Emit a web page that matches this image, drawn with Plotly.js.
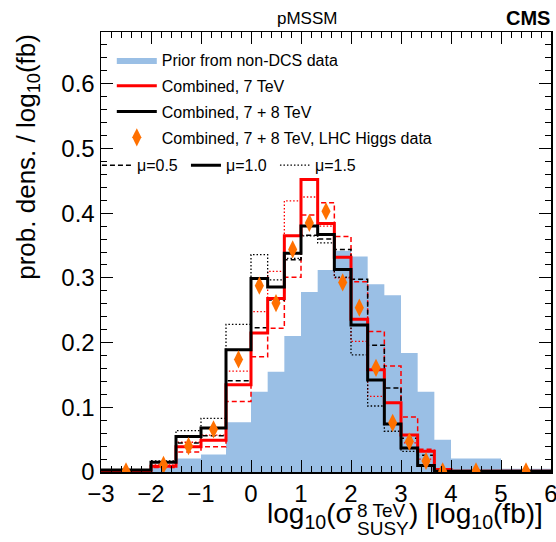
<!DOCTYPE html>
<html><head><meta charset="utf-8">
<script src="https://cdn.plot.ly/plotly-3.0.1.min.js"></script>
<style>body{margin:0;background:#fff}#chart{width:556px;height:542px}</style>
</head><body><div id="chart"></div>
<script>
// bin edges of log10(sigma) histogram
const binEdges = [-3, -2, -1.5, -1, -0.5, 0, 0.3333, 0.6667, 1, 1.3333, 1.6667, 2, 2.3333, 2.6667, 3, 3.3333, 3.6667, 4, 5, 6];
// Prior from non-DCS data
const prior      = [0.001, 0.007, 0.021, 0.027, 0.077, 0.124, 0.155, 0.210, 0.278, 0.312, 0.342, 0.333, 0.290, 0.273, 0.184, 0.124, 0.050, 0.021, 0.005];
// Combined, 7 TeV (mu = 0.5, 1.0, 1.5)
const comb7Mu05  = [0.002, 0.007, 0.031, 0.039, 0.109, 0.178, 0.222, 0.301, 0.397, 0.416, 0.364, 0.294, 0.217, 0.164, 0.085, 0.035, 0.005, 0.001, 0.001];
const comb7Mu10  = [0.002, 0.009, 0.039, 0.049, 0.135, 0.215, 0.268, 0.365, 0.452, 0.384, 0.332, 0.236, 0.158, 0.107, 0.057, 0.032, 0.004, 0.001, 0.001];
const comb7Mu15  = [0.002, 0.011, 0.046, 0.057, 0.156, 0.248, 0.310, 0.419, 0.425, 0.380, 0.300, 0.202, 0.117, 0.075, 0.045, 0.020, 0.002, 0.001, 0.001];
// Combined, 7 + 8 TeV (mu = 0.5, 1.0, 1.5)
const comb78Mu05 = [0.003, 0.015, 0.045, 0.056, 0.141, 0.223, 0.266, 0.328, 0.366, 0.360, 0.344, 0.298, 0.196, 0.130, 0.052, 0.026, 0.003, 0.001, 0.001];
const comb78Mu10 = [0.003, 0.015, 0.055, 0.068, 0.189, 0.299, 0.286, 0.338, 0.380, 0.367, 0.313, 0.227, 0.142, 0.074, 0.037, 0.010, 0.001, 0.001, 0.001];
const comb78Mu15 = [0.003, 0.017, 0.064, 0.083, 0.228, 0.336, 0.297, 0.330, 0.365, 0.354, 0.301, 0.181, 0.102, 0.063, 0.032, 0.009, 0.001, 0.001, 0.001];
// Combined, 7 + 8 TeV, LHC Higgs data
const higgs      = [0.001, 0.011, 0.040, 0.066, 0.174, 0.288, 0.261, 0.344, 0.385, 0.403, 0.293, 0.254, 0.161, 0.076, 0.047, 0.017, 0.001, 0.001, 0.001];

const xTickVals = [-3, -2, -1, 0, 1, 2, 3, 4, 5, 6];
const yTickVals = [0, 0.1, 0.2, 0.3, 0.4, 0.5, 0.6];

const FONT = 'Liberation Sans, Arial, Helvetica, sans-serif';
const RED = '#ff0000';
const BLUE = '#9abfe5';
const ORANGE = '#ff7000';
const DASH = '5px,3px';
const DOT = '1.5px,2px';

function stepY(v) { return v.concat([v[v.length - 1]]); }
const centers = binEdges.slice(0, -1).map((e, i) => (e + binEdges[i + 1]) / 2);

function hist(vals, color, width, dash, extra) {
  return Object.assign({
    type: 'scatter', mode: 'lines', x: binEdges, y: stepY(vals),
    line: {shape: 'hv', color: color, width: width, dash: dash},
    showlegend: false, hoverinfo: 'skip'
  }, extra || {});
}

const traces = [
  {type: 'scatter', mode: 'lines', x: binEdges, y: stepY(prior), fill: 'tozeroy',
   fillcolor: BLUE, line: {shape: 'hv', width: 0, color: BLUE},
   name: 'Prior from non-DCS data', legend: 'legend', legendrank: 1, legendgroup: 'g1'},
  hist(comb7Mu05, RED, 1.5, DASH),
  hist(comb7Mu15, RED, 1.3, DOT),
  hist(comb78Mu05, 'black', 1.5, DASH, {showlegend: true, name: 'μ=0.5', legend: 'legend2', legendrank: 1}),
  hist(comb78Mu15, 'black', 1.3, DOT, {showlegend: true, name: 'μ=1.5', legend: 'legend2', legendrank: 3}),
  hist(comb7Mu10, RED, 3, 'solid', {showlegend: true, name: 'Combined, 7 TeV', legend: 'legend', legendrank: 2, legendgroup: 'g2'}),
  hist(comb78Mu10, 'black', 3, 'solid', {showlegend: true, name: 'Combined, 7 + 8 TeV', legend: 'legend', legendrank: 3, legendgroup: 'g3'}),
  {type: 'scatter', mode: 'markers', x: centers, y: higgs,
   marker: {symbol: 'diamond-tall', size: 13, color: ORANGE, line: {width: 0}},
   name: 'Combined, 7 + 8 TeV, LHC Higgs data', legend: 'legend', legendrank: 4, legendgroup: 'g4'},
  {type: 'scatter', mode: 'lines', x: [null], y: [null], line: {color: 'black', width: 3},
   name: 'μ=1.0', legend: 'legend2', legendrank: 2}
];

const axisCommon = {
  showline: true, linecolor: 'black', linewidth: 1.5, mirror: 'allticks',
  ticks: 'inside', ticklen: 12, tickwidth: 1, tickcolor: 'black',
  showgrid: false, zeroline: false, ticklabeloverflow: 'allow',
  tickfont: {family: FONT, size: 24, color: 'black'}
};

const layout = {
  width: 556, height: 542,
  margin: {l: 101, r: 5, t: 32, b: 70},
  paper_bgcolor: 'white', plot_bgcolor: 'white',
  font: {family: FONT, color: 'black'},
  xaxis: Object.assign({}, axisCommon, {
    range: [-3, 6], tickmode: 'array', tickvals: xTickVals,
    minor: {dtick: 0.2, tick0: 0, ticks: 'inside', ticklen: 6, tickwidth: 1, tickcolor: 'black'}
  }),
  yaxis: Object.assign({}, axisCommon, {
    range: [0, 0.68], tickmode: 'array', tickvals: yTickVals,
    minor: {dtick: 0.02, tick0: 0, ticks: 'inside', ticklen: 6, tickwidth: 1, tickcolor: 'black'}
  }),
  legend: {x: 0.024, y: 0.975, xanchor: 'left', yanchor: 'top', bgcolor: 'rgba(0,0,0,0)',
           font: {family: FONT, size: 16, color: 'black'}, traceorder: 'grouped', tracegroupgap: 2, itemwidth: 40},
  legend2: {x: -0.009, y: 0.697, xanchor: 'left', yanchor: 'middle', orientation: 'h',
            bgcolor: 'rgba(0,0,0,0)', font: {family: FONT, size: 16, color: 'black'},
            itemwidth: 30, entrywidth: 44},
  annotations: [
    {text: 'pMSSM', xref: 'paper', yref: 'paper', x: 0.458, y: 1.0, yanchor: 'bottom', yshift: 2,
     showarrow: false, font: {family: FONT, size: 17}},
    {text: '<b>CMS</b>', xref: 'paper', yref: 'paper', x: 1.003, y: 1.0, xanchor: 'right', yanchor: 'bottom', yshift: 1,
     showarrow: false, font: {family: FONT, size: 20}},
    {text: 'prob. dens. / log<sub>10</sub>(fb)', xref: 'paper', yref: 'paper', x: -0.165, y: 1.0,
     xanchor: 'center', yanchor: 'top', textangle: -90, showarrow: false, font: {family: FONT, size: 26}},
    {text: 'log<sub>10</sub>(σ', xref: 'paper', yref: 'paper', x: 0.5644, y: -0.099,
     xanchor: 'right', yanchor: 'middle', showarrow: false, font: {family: FONT, size: 28}},
    {text: '8 TeV', xref: 'paper', yref: 'paper', x: 0.5644, y: -0.087,
     xanchor: 'left', yanchor: 'middle', showarrow: false, font: {family: FONT, size: 19}},
    {text: 'SUSY', xref: 'paper', yref: 'paper', x: 0.5644, y: -0.128,
     xanchor: 'left', yanchor: 'middle', showarrow: false, font: {family: FONT, size: 19}},
    {text: ') [log<sub>10</sub>(fb)]', xref: 'paper', yref: 'paper', x: 0.68, y: -0.099,
     xanchor: 'left', yanchor: 'middle', showarrow: false, font: {family: FONT, size: 28}}
  ]
};

Plotly.newPlot('chart', traces, layout, {staticPlot: true, displayModeBar: false});
</script>
</body></html>
